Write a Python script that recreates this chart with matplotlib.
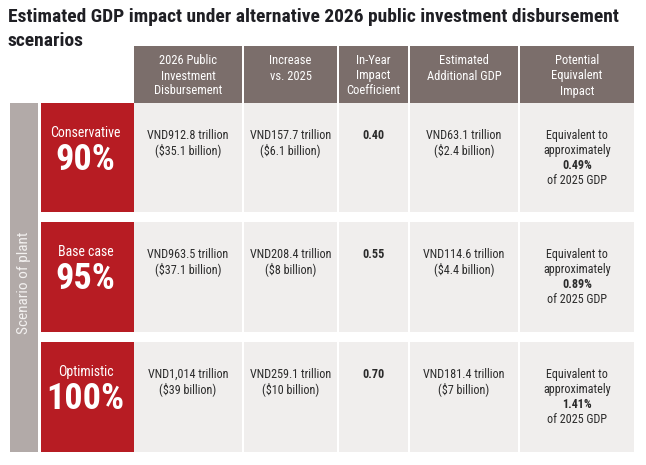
import matplotlib
matplotlib.use("Agg")
import matplotlib.pyplot as plt
import matplotlib.font_manager as fm
from matplotlib.patches import Rectangle

# Table content
title_lines = ["Estimated GDP impact under alternative 2026 public investment disbursement",
               "scenarios"]
headers = [["2026 Public", "Investment", "Disbursement"],
           ["Increase", "vs. 2025"],
           ["In-Year", "Impact", "Coefficient"],
           ["Estimated", "Additional GDP"],
           ["Potential", "Equivalent", "Impact"]]
side_label = "Scenario of plant"
scenarios = ["Conservative", "Base case", "Optimistic"]
rates = ["90%", "95%", "100%"]
disb_vnd = ["VND912.8 trillion", "VND963.5 trillion", "VND1,014 trillion"]
disb_usd = ["($35.1 billion)", "($37.1 billion)", "($39 billion)"]
incr_vnd = ["VND157.7 trillion", "VND208.4 trillion", "VND259.1 trillion"]
incr_usd = ["($6.1 billion)", "($8 billion)", "($10 billion)"]
coefficients = [0.40, 0.55, 0.70]
gdp_vnd = ["VND63.1 trillion", "VND114.6 trillion", "VND181.4 trillion"]
gdp_usd = ["($2.4 billion)", "($4.4 billion)", "($7 billion)"]
gdp_share = [0.49, 0.89, 1.41]

# Colours
header_bg = "#7b6e6b"
red_bg = "#b71c23"
cell_bg = "#f0eeed"
side_bg = "#b2aaa8"
text_dark = "#2b2b2b"

# Pick a narrow font if one is installed
available = {f.name for f in fm.fontManager.ttflist}
stretch = "normal"
family = None
for cand in ["Roboto Condensed", "Liberation Sans Narrow", "Open Sans Condensed"]:
    if cand in available:
        family = [cand, "DejaVu Sans"]
        break
if family is None:
    if any(f.name == "DejaVu Sans" and f.stretch == "condensed" for f in fm.fontManager.ttflist):
        family = ["DejaVu Sans"]
        stretch = "condensed"
    else:
        family = ["Liberation Sans", "DejaVu Sans"]
plt.rcParams["font.family"] = family
plt.rcParams["font.stretch"] = stretch

W, H = 646, 465
fig = plt.figure(figsize=(W / 100, H / 100), dpi=100)
ax = fig.add_axes([0, 0, 1, 1])
ax.set_xlim(0, W)
ax.set_ylim(H, 0)
ax.axis("off")

# Layout (pixels)
cols = [(134, 242), (244, 337), (339, 408), (410, 518), (520, 634)]
rows = [(103, 212), (222, 332), (342, 452)]
head_top, head_bot = 46, 103
side_x = (10, 38)
red_x = (41, 134)
line_h = 15


def box(x0, x1, y0, y1, color):
    ax.add_patch(Rectangle((x0, y0), x1 - x0, y1 - y0, facecolor=color, edgecolor="none"))


# Title
ax.text(8, 17, title_lines[0], fontsize=14, fontweight="bold", color="#1f1f24", va="center", ha="left")
ax.text(8, 41, title_lines[1], fontsize=14, fontweight="bold", color="#1f1f24", va="center", ha="left")

# Header
for (x0, x1), lines in zip(cols, headers):
    box(x0, x1, head_top, head_bot, header_bg)
    for i, ln in enumerate(lines):
        ax.text((x0 + x1) / 2, head_top + 15 + line_h * i, ln, fontsize=9, color="white",
                ha="center", va="center")

# Side bar
box(side_x[0], side_x[1], rows[0][0], rows[-1][1], side_bg)
ax.text((side_x[0] + side_x[1]) / 2, 283, side_label, fontsize=11, color="#f3f1f0",
        rotation=90, ha="center", va="center")

# Body rows
for r, (y0, y1) in enumerate(rows):
    box(red_x[0], red_x[1], y0, y1, red_bg)
    cx = (red_x[0] + red_x[1]) / 2 - 2
    ax.text(cx, y0 + 30, scenarios[r], fontsize=10, color="white", ha="center", va="center")
    ax.text(cx, y0 + 57, rates[r], fontsize=26, fontweight="bold", color="white",
            ha="center", va="center")

    cells = [[(disb_vnd[r], "normal"), (disb_usd[r], "normal")],
             [(incr_vnd[r], "normal"), (incr_usd[r], "normal")],
             [(f"{coefficients[r]:.2f}", "bold")],
             [(gdp_vnd[r], "normal"), (gdp_usd[r], "normal")],
             [("Equivalent to", "normal"), ("approximately", "normal"),
              (f"{gdp_share[r]:.2f}%", "bold"), ("of 2025 GDP", "normal")]]
    for (x0, x1), lines in zip(cols, cells):
        box(x0, x1, y0, y1, cell_bg)
        for i, (ln, wt) in enumerate(lines):
            ax.text((x0 + x1) / 2, y0 + 32 + line_h * i, ln, fontsize=8.7, fontweight=wt,
                    color=text_dark, ha="center", va="center")

fig.savefig("out.png", dpi=100)
